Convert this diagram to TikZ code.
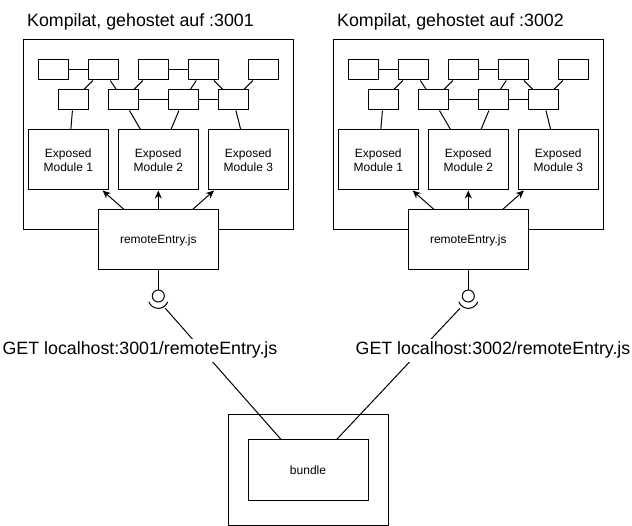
\documentclass[tikz,border=0pt]{standalone}
\usepackage{fontspec}
\setmainfont{Liberation Sans}
\usetikzlibrary{arrows.meta}
\begin{document}
\begin{tikzpicture}[x=1pt,y=-1pt,line width=1pt,
  sbox/.style={draw,fill=white,minimum width=30pt,minimum height=20pt,inner sep=0pt},
  modbox/.style={draw,fill=white,minimum width=80pt,minimum height=60pt,inner sep=0pt,align=center,font=\fontsize{12}{13.5}\selectfont},
  entrybox/.style={draw,fill=white,minimum width=120pt,minimum height=60pt,inner sep=0pt,font=\fontsize{12}{13.5}\selectfont},
  framebox/.style={draw,minimum width=270pt,minimum height=190pt,inner sep=0pt},
  bigtext/.style={font=\fontsize{17.8}{21}\selectfont,inner sep=0pt},
  arr/.style={-{Stealth[length=8pt,width=7pt,inset=2.5pt]}}]
\fill[white] (0,0) rectangle (632,526);
\useasboundingbox (0,0) rectangle (632,526);
\foreach \ox/\port/\g in {0/3001/L,310/3002/R}{
  \node[bigtext,anchor=base west] (T\g) at (26.7+\ox,26.7) {Kompilat, gehostet auf :\port};
  \node[framebox] (Fr\g) at (158.3+\ox,135) {};
  \node[sbox] (A\g) at (53.3+\ox,70) {};
  \node[sbox] (B\g) at (103.3+\ox,70) {};
  \node[sbox] (C\g) at (153.3+\ox,70) {};
  \node[sbox] (D\g) at (203.3+\ox,70) {};
  \node[sbox] (E\g) at (263.3+\ox,70) {};
  \node[sbox] (F\g) at (73.3+\ox,100) {};
  \node[sbox] (G\g) at (123.3+\ox,100) {};
  \node[sbox] (H\g) at (183.3+\ox,100) {};
  \node[sbox] (I\g) at (233.3+\ox,100) {};
  \node[modbox] (M1\g) at (68.3+\ox,160) {Exposed\\Module 1};
  \node[modbox] (M2\g) at (158.3+\ox,160) {Exposed\\Module 2};
  \node[modbox] (M3\g) at (248.3+\ox,160) {Exposed\\Module 3};
  \node[entrybox] (R\g) at (158.3+\ox,240) {remoteEntry.js};
  \draw (A\g) -- (B\g);
  \draw (C\g) -- (D\g);
  \draw (B\g) -- (F\g);
  \draw (B\g) -- (G\g);
  \draw (C\g) -- (G\g);
  \draw (D\g) -- (H\g);
  \draw (D\g) -- (I\g);
  \draw (E\g) -- (I\g);
  \draw (G\g) -- (H\g);
  \draw (H\g) -- (I\g);
  \draw (F\g) -- (M1\g);
  \draw (G\g) -- (M2\g);
  \draw (H\g) -- (M2\g);
  \draw (I\g) -- (M3\g);
  \draw[arr] (R\g) -- (M1\g);
  \draw[arr] (R\g) -- (M2\g);
  \draw[arr] (R\g) -- (M3\g);
  \coordinate (Ball\g) at (158.3+\ox,290);
  \draw (R\g.south) -- (Ball\g);
  \draw (158.3+\ox,296) circle[radius=6pt];
  \draw plot[domain=200:340,samples=40,smooth] ({158.3+\ox+10*cos(\x)},{298.3-10*sin(\x)});
}
\node[draw,minimum width=160pt,minimum height=110pt,inner sep=0pt] (outer) at (308.5,470) {};
\node[draw,fill=white,minimum width=120pt,minimum height=60pt,inner sep=0pt,font=\fontsize{12}{13.5}\selectfont] (bundle) at (308,470) {bundle};
\coordinate (sockL) at (165.3,308.3);
\coordinate (sockR) at (460,308.3);
\draw (sockL) -- (bundle);
\draw (sockR) -- (bundle);
\node[bigtext,fill=white,inner ysep=3pt,anchor=base] (getL) at (140,355) {GET localhost:3001/remoteEntry.js};
\node[bigtext,fill=white,inner ysep=3pt,anchor=base] (getR) at (493,355) {GET localhost:3002/remoteEntry.js};
\end{tikzpicture}
\end{document}
